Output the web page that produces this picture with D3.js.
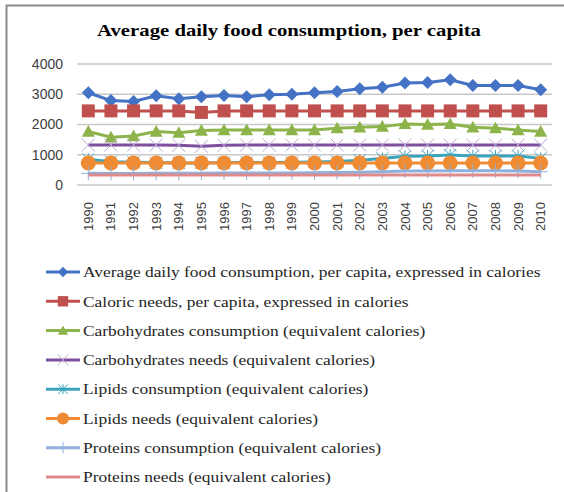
<!DOCTYPE html>
<html>
<head>
<meta charset="utf-8">
<script src="https://cdn.jsdelivr.net/npm/d3@7"></script>
<style>
  body { margin: 0; background: #fff; }
  svg { display: block; }
</style>
</head>
<body>
<div id="chart"></div>
<script>
const width = 564;
const height = 492;

const years = d3.range(1990, 2011).map(String);
const yTicks = [0, 1000, 2000, 3000, 4000];

const avgConsumption = [3050, 2790, 2760, 2950, 2850, 2920, 2960, 2920, 2980, 3000, 3050, 3090, 3180, 3230, 3370, 3390, 3480, 3290, 3290, 3290, 3150];
const caloricNeeds = [2450, 2450, 2450, 2450, 2450, 2400, 2450, 2450, 2450, 2450, 2450, 2450, 2450, 2450, 2450, 2450, 2450, 2450, 2450, 2450, 2450];
const carbsConsumption = [1770, 1580, 1620, 1770, 1730, 1800, 1820, 1820, 1820, 1820, 1820, 1880, 1910, 1930, 2020, 2000, 2020, 1910, 1880, 1820, 1770];
const carbsNeeds = [1320, 1320, 1320, 1320, 1310, 1280, 1310, 1320, 1320, 1320, 1320, 1320, 1320, 1320, 1320, 1320, 1320, 1320, 1320, 1320, 1320];
const lipidsConsumption = [850, 770, 750, 740, 730, 730, 740, 740, 740, 750, 760, 780, 820, 880, 950, 960, 990, 960, 960, 960, 880];
const lipidsNeeds = [725, 725, 725, 725, 725, 725, 725, 725, 725, 725, 725, 725, 725, 725, 725, 725, 725, 725, 725, 725, 725];
const proteinsConsumption = [385, 380, 380, 385, 385, 390, 395, 395, 395, 400, 405, 410, 420, 440, 460, 465, 470, 470, 470, 465, 440];
const proteinsNeeds = [330, 330, 330, 330, 330, 330, 330, 330, 330, 330, 330, 330, 330, 330, 330, 330, 330, 330, 330, 330, 330];

const series = [
    { name: "Average daily food consumption, per capita, expressed in calories", values: avgConsumption, color: "#4472c4", marker: "diamond" },
    { name: "Caloric needs, per capita, expressed in calories", values: caloricNeeds, color: "#c0504d", marker: "square" },
    { name: "Carbohydrates consumption (equivalent calories)", values: carbsConsumption, color: "#8db44a", marker: "triangle" },
    { name: "Carbohydrates needs (equivalent calories)", values: carbsNeeds, color: "#7d4f9c", marker: "x" },
    { name: "Lipids consumption (equivalent calories)", values: lipidsConsumption, color: "#3aa4bd", marker: "star" },
    { name: "Lipids needs (equivalent calories)", values: lipidsNeeds, color: "#ee8b33", marker: "circle" },
    { name: "Proteins consumption (equivalent calories)", values: proteinsConsumption, color: "#8fb0dd", marker: "plus" },
    { name: "Proteins needs (equivalent calories)", values: proteinsNeeds, color: "#dd8a8a", marker: "none" }
];

const svg = d3.select("#chart")
    .append("svg")
    .attr("width", width)
    .attr("height", height);

// outer frame
svg.append("rect")
    .attr("x", 6.5).attr("y", 5.5)
    .attr("width", 570).attr("height", 500)
    .attr("fill", "#fff")
    .attr("stroke", "#8c8c8c")
    .attr("stroke-width", 2);

// title (the source picture is stretched horizontally)
svg.append("text")
    .attr("transform", "translate(289,36) scale(1.22,1)")
    .attr("text-anchor", "middle")
    .style("font-family", "'Liberation Serif', 'Times New Roman', serif")
    .style("font-weight", "bold")
    .style("font-size", "17px")
    .text("Average daily food consumption, per capita");

const x = d3.scaleBand().domain(years).range([77, 552]);
const y = d3.scaleLinear().domain([0, 4000]).range([185, 64]);

// gridlines
svg.append("g")
    .selectAll("line")
    .data(yTicks)
    .enter().append("line")
    .attr("x1", 77).attr("x2", 552)
    .attr("y1", d => y(d)).attr("y2", d => y(d))
    .attr("stroke", "#c8c8c8")
    .attr("stroke-width", 1.5);

const yAxis = svg.append("g")
    .attr("transform", "translate(63,0)")
    .call(d3.axisLeft(y).tickValues(yTicks).tickFormat(d3.format("d")).tickSize(0).tickPadding(0));
yAxis.select(".domain").remove();
yAxis.selectAll("text")
    .style("font-family", "'Liberation Sans', Arial, sans-serif")
    .style("font-size", "14px")
    .attr("fill", "#404040");

const xAxis = svg.append("g")
    .attr("transform", "translate(0,199)")
    .call(d3.axisBottom(x).tickSize(0).tickPadding(0));
xAxis.select(".domain").remove();
xAxis.selectAll("text")
    .style("font-family", "'Liberation Sans', Arial, sans-serif")
    .style("font-size", "13px")
    .attr("fill", "#404040")
    .attr("transform", "rotate(-90)")
    .attr("text-anchor", "end")
    .attr("x", -3)
    .attr("y", 0)
    .attr("dy", "0.35em");

function markerPath(type, s) {
    const h = s / 2;
    switch (type) {
        case "diamond": return `M0,${-h}L${h},0L0,${h}L${-h},0Z`;
        case "square": return `M${-h},${-h}H${h}V${h}H${-h}Z`;
        case "triangle": return `M0,${-h}L${h},${h * 0.8}L${-h},${h * 0.8}Z`;
        case "x": return `M${-h},${-h}L${h},${h}M${h},${-h}L${-h},${h}`;
        case "star": return `M${-h},${-h}L${h},${h}M${h},${-h}L${-h},${h}M0,${-h}V${h}`;
        case "plus": return `M0,${-h}V${h}M${-h},0H${h}`;
        default: return "";
    }
}

function drawMarker(g, s, cx, cy, size) {
    if (s.marker === "none") return;
    if (s.marker === "circle") {
        g.append("circle").attr("cx", cx).attr("cy", cy).attr("r", size / 2).attr("fill", s.color);
        return;
    }
    const open = ["x", "star", "plus"].includes(s.marker);
    g.append("path")
        .attr("transform", `translate(${cx},${cy})`)
        .attr("d", markerPath(s.marker, size))
        .attr("fill", open ? "none" : s.color)
        .attr("stroke", open ? (s.marker === "x" ? "#b9a6d6" : s.color) : "none")
        .attr("stroke-width", 1);
}

const line = d3.line()
    .x((d, i) => x(years[i]) + x.bandwidth() / 2)
    .y(d => y(d));

const sizes = { diamond: 13, square: 13, triangle: 13, x: 13, star: 12, circle: 15, plus: 14, none: 0 };

// later series on top, as in the original
series.forEach(s => {
    const g = svg.append("g");
    g.append("path")
        .datum(s.values)
        .attr("d", line)
        .attr("fill", "none")
        .attr("stroke", s.color)
        .attr("stroke-width", 3);
    s.values.forEach((v, i) => {
        drawMarker(g, s, x(years[i]) + x.bandwidth() / 2, y(v), sizes[s.marker]);
    });
});

// legend
const legend = svg.append("g");
series.forEach((s, i) => {
    const ly = 272 + i * 29.3;
    const g = legend.append("g");
    g.append("line")
        .attr("x1", 46).attr("x2", 80)
        .attr("y1", ly).attr("y2", ly)
        .attr("stroke", s.color)
        .attr("stroke-width", 3);
    drawMarker(g, s, 63, ly, sizes[s.marker] * 0.8);
    g.append("text")
        .attr("transform", `translate(83,${ly}) scale(1.16,1)`)
        .attr("dy", "0.35em")
        .style("font-family", "'Liberation Serif', 'Times New Roman', serif")
        .style("font-size", "15px")
        .attr("fill", "#262626")
        .text(s.name);
});
</script>
</body>
</html>
